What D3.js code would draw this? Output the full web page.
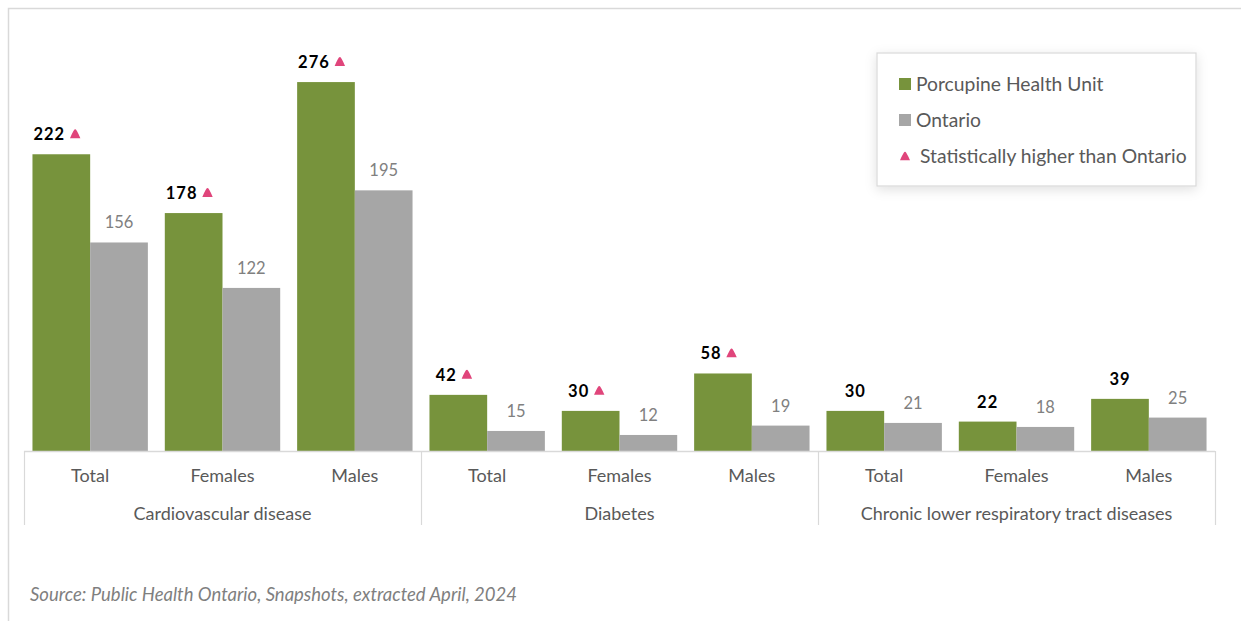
<!DOCTYPE html>
<html>
<head>
<meta charset="utf-8">
<script src="https://cdn.jsdelivr.net/npm/d3@7"></script>
<style>
  html, body { margin: 0; padding: 0; background: #fff; }
  svg { display: block; }
</style>
</head>
<body>
<svg id="chart" width="1241" height="621"></svg>
<script>
// Age-standardized mortality rates per 100,000
const groups = ["Cardiovascular disease", "Diabetes", "Chronic lower respiratory tract diseases"];
const subgroups = ["Total", "Females", "Males"];
const porcupine = [222, 178, 276, 42, 30, 58, 30, 22, 39];
const ontario = [156, 122, 195, 15, 12, 19, 21, 18, 25];
const higher = [true, true, true, true, true, true, false, false, false];
const seriesNames = ["Porcupine Health Unit", "Ontario", "Statistically higher than Ontario"];
const source = "Source: Public Health Ontario, Snapshots, extracted April, 2024";

const GREEN = "#77933c", GREY = "#a6a6a6", PINK = "#e0457b";
const FONT = "Lato, 'Open Sans', sans-serif";

const svg = d3.select("#chart");

// Outer frame (top and left edges visible)
svg.append("path")
  .attr("d", "M8.5,621 V8.5 H1241")
  .attr("fill", "none").attr("stroke", "#d9d9d9").attr("stroke-width", 1.5);

const left = 24, right = 1215, base = 451;
const cats = [];
groups.forEach((g, gi) => subgroups.forEach((s, si) => cats.push({ id: gi * 3 + si, g, s })));

const x = d3.scaleBand().domain(cats.map(d => d.id)).range([left, right]).paddingInner(0.128).paddingOuter(0.064);
const xs = d3.scaleBand().domain(["p", "o"]).range([0, x.bandwidth()]);
const xg = d3.scaleBand().domain(groups).range([left, right]);
const y = d3.scaleLinear().domain([0, 300]).range([base, 50]);

const rows = cats.map((c, i) => ({ ...c, p: porcupine[i], o: ontario[i], hi: higher[i] }));

// Bars
const cat = svg.append("g").selectAll("g").data(rows).join("g")
  .attr("transform", d => `translate(${x(d.id)},0)`);

cat.append("rect")
  .attr("x", xs("p")).attr("width", xs.bandwidth())
  .attr("y", d => y(d.p)).attr("height", d => base - y(d.p))
  .attr("fill", GREEN);
cat.append("rect")
  .attr("x", xs("o")).attr("width", xs.bandwidth())
  .attr("y", d => y(d.o)).attr("height", d => base - y(d.o))
  .attr("fill", GREY);

// Rounded triangle marker
function triPath(cx, cy, s) {
  return `M${cx - s},${cy + s * 0.75} Q${cx - s * 0.2},${cy - s * 1.1} ${cx},${cy - s * 0.95} Q${cx + s * 0.2},${cy - s * 1.1} ${cx + s},${cy + s * 0.75} Z`;
}

// Value labels
cat.each(function (d) {
  const g = d3.select(this);
  const cx = xs("p") + xs.bandwidth() / 2;
  const t = g.append("text")
    .attr("y", y(d.p) - 14)
    .attr("font-family", FONT).attr("font-size", 16.5).attr("font-weight", 700)
    .attr("letter-spacing", 1).attr("fill", "#000")
    .text(d.p);
  if (d.hi) {
    t.attr("x", cx - 12).attr("text-anchor", "middle");
    const w = t.node().getComputedTextLength();
    g.append("path")
      .attr("d", triPath(cx - 12 + w / 2 + 10, y(d.p) - 20, 5.2))
      .attr("fill", PINK);
  } else {
    t.attr("x", cx).attr("text-anchor", "middle");
  }
  g.append("text")
    .attr("x", xs("o") + xs.bandwidth() / 2)
    .attr("y", y(d.o) - 14)
    .attr("text-anchor", "middle")
    .attr("font-family", FONT).attr("font-size", 16.5)
    .attr("fill", "#808080")
    .text(d.o);
});

// Category axis
const axis = svg.append("g");
axis.append("line")
  .attr("x1", left).attr("x2", right).attr("y1", base + 0.5).attr("y2", base + 0.5)
  .attr("stroke", "#d9d9d9").attr("stroke-width", 1.5);
const seps = groups.map(g => xg(g)).concat([right]);
axis.selectAll("line.sep").data(seps).join("line")
  .attr("class", "sep")
  .attr("x1", d => d + 0.5).attr("x2", d => d + 0.5)
  .attr("y1", base).attr("y2", 525)
  .attr("stroke", "#d9d9d9").attr("stroke-width", 1.2);

axis.selectAll("text.sub").data(rows).join("text")
  .attr("class", "sub")
  .attr("x", d => x(d.id) + x.bandwidth() / 2)
  .attr("y", 482)
  .attr("text-anchor", "middle")
  .attr("font-family", FONT).attr("font-size", 18).attr("fill", "#595959")
  .text(d => d.s);

axis.selectAll("text.grp").data(groups).join("text")
  .attr("class", "grp")
  .attr("x", d => xg(d) + xg.bandwidth() / 2)
  .attr("y", 520)
  .attr("text-anchor", "middle")
  .attr("font-family", FONT).attr("font-size", 18).attr("fill", "#595959")
  .text(d => d);

// Legend
const defs = svg.append("defs");
const f = defs.append("filter").attr("id", "shadow").attr("x", "-20%").attr("y", "-20%").attr("width", "140%").attr("height", "150%");
f.append("feDropShadow").attr("dx", 0).attr("dy", 3).attr("stdDeviation", 6).attr("flood-color", "#000").attr("flood-opacity", 0.12);

const lg = svg.append("g").attr("transform", "translate(877,53)");
lg.append("rect")
  .attr("width", 319).attr("height", 133)
  .attr("fill", "#fff").attr("stroke", "#d9d9d9").attr("stroke-width", 1.2)
  .attr("filter", "url(#shadow)");
const items = lg.selectAll("g.item").data(seriesNames).join("g")
  .attr("class", "item")
  .attr("transform", (d, i) => `translate(0,${31 + i * 36})`);
items.each(function (d, i) {
  const g = d3.select(this);
  if (i < 2) {
    g.append("rect").attr("x", 22).attr("y", -6).attr("width", 12).attr("height", 12)
      .attr("fill", i === 0 ? GREEN : GREY);
  } else {
    g.append("path").attr("d", triPath(28, 0.5, 5)).attr("fill", PINK);
  }
  g.append("text")
    .attr("x", i < 2 ? 39 : 43).attr("y", 6.5)
    .attr("font-family", FONT).attr("font-size", 19.3).attr("fill", "#595959")
    .text(d);
});

// Source note
svg.append("text")
  .attr("x", 30).attr("y", 601)
  .attr("font-family", FONT).attr("font-size", 18.5).attr("font-style", "italic")
  .attr("fill", "#7f7f7f")
  .text(source);
</script>
</body>
</html>
